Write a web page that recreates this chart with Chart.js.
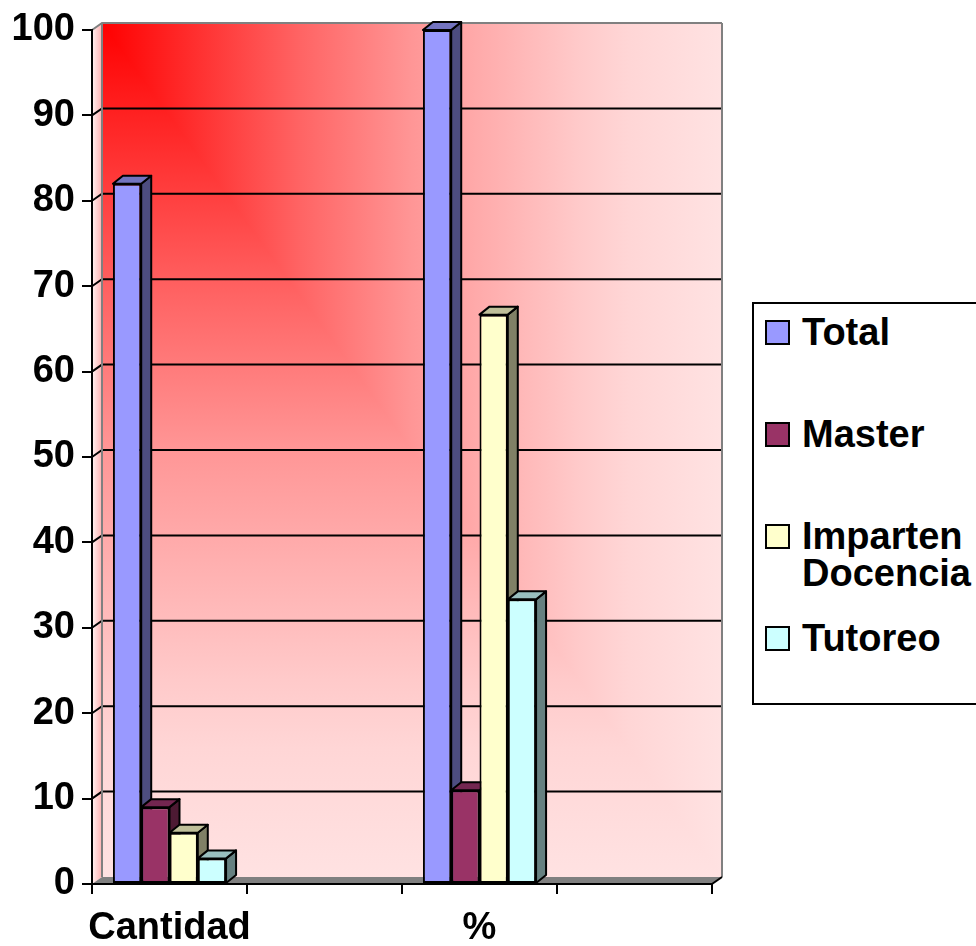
<!DOCTYPE html>
<html>
<head>
<meta charset="utf-8">
<title>Total / Master / Imparten Docencia / Tutoreo</title>
<script src="https://cdn.jsdelivr.net/npm/chart.js@4.4.1/dist/chart.umd.min.js"></script>
<style>
  html, body { margin: 0; padding: 0; background: #fff; overflow: hidden; }
  #wrap { position: relative; width: 976px; height: 946px; }
  #legend {
    position: absolute; left: 752px; top: 302px; width: 250px; height: 399px;
    border: 2px solid #000; background: #fff;
    font: bold 38px "Liberation Sans", Arial, sans-serif; color: #000;
  }
  .item { position: absolute; left: 11px; width: 230px; line-height: 37px; padding-left: 37px; box-sizing: border-box; }
  .item .sw { position: absolute; left: 0; top: 6px; width: 21px; height: 21px; border: 2px solid #000; }
</style>
</head>
<body>
<div id="wrap">
  <canvas id="chart" width="976" height="946"></canvas>
  <div id="legend"></div>
</div>
<script>
// ====================================
// DATA
// ====================================
const categories = ["Cantidad", "", "%", ""];
const seriesNames = ["Total", "Master", "Imparten Docencia", "Tutoreo"];
const totalValues = [82, null, 100, null];
const masterValues = [9, null, 10.98, null];
const docenciaValues = [6, null, 66.67, null];
const tutoreoValues = [3, null, 33.33, null];
const yTicks = [0, 10, 20, 30, 40, 50, 60, 70, 80, 90, 100];

// ====================================
// STYLE
// ====================================
const FONT = "'Liberation Sans', Arial, sans-serif";
const faceColors = ["#9999FF", "#993366", "#FFFFCC", "#CCFFFF"];
const sideColors = ["#4D4D80", "#4D1A33", "#808066", "#668080"];
const topColors = ["#7373BF", "#732650", "#BFBF99", "#99BFBF"];
const WALL_DX = 10, WALL_DY = -7;   // depth of back wall
const BAR_DX = 10, BAR_DY = -8;     // depth of each bar

function wallRamp(ctx, x0, y0, x1, y1) {
  const g = ctx.createLinearGradient(x0, y0, x1, y1);
  g.addColorStop(0, "#FF0000");
  g.addColorStop(0.32, "#FF6464");
  g.addColorStop(0.5, "#FF9696");
  g.addColorStop(0.77, "#FFCACA");
  g.addColorStop(0.85, "#FFD6D6");
  g.addColorStop(1, "#FFE2E2");
  return g;
}

// walls, floor and gridlines of the 3D box
const wallsPlugin = {
  id: "walls",
  beforeDraw(chart) {
    const ctx = chart.ctx;
    const a = chart.chartArea;
    const yScale = chart.scales.y;
    const L = a.left + WALL_DX, R = a.right + WALL_DX;
    const T = a.top + WALL_DY, B = a.bottom + WALL_DY;

    ctx.save();
    // back wall: "from corner" gradient, two triangles
    ctx.fillStyle = wallRamp(ctx, L, 0, R, 0);
    ctx.fillRect(L, T, R - L, B - T);
    ctx.beginPath();
    ctx.moveTo(L, T); ctx.lineTo(L, B); ctx.lineTo(R, B); ctx.closePath();
    ctx.fillStyle = wallRamp(ctx, 0, T, 0, B);
    ctx.fill();

    // left side wall
    ctx.beginPath();
    ctx.moveTo(a.left, a.top); ctx.lineTo(L, T); ctx.lineTo(L, B); ctx.lineTo(a.left, a.bottom);
    ctx.closePath();
    const lg = ctx.createLinearGradient(a.left, 0, L, 0);
    lg.addColorStop(0, "#FFF2F2");
    lg.addColorStop(1, "#FFB0B0");
    ctx.fillStyle = lg;
    ctx.fill();

    // gridlines
    ctx.lineWidth = 2;
    yTicks.forEach(function (v) {
      if (v === 0) return;
      const y = yScale.getPixelForValue(v);
      ctx.strokeStyle = v === yTicks[yTicks.length - 1] ? "#808080" : "#000";
      ctx.beginPath();
      ctx.moveTo(a.left, y);
      ctx.lineTo(L, y + WALL_DY);
      ctx.lineTo(R, y + WALL_DY);
      ctx.stroke();
    });

    // wall edges
    ctx.strokeStyle = "#808080";
    ctx.beginPath();
    ctx.moveTo(L, T); ctx.lineTo(L, B);
    ctx.moveTo(R, T); ctx.lineTo(R, B);
    ctx.stroke();

    // floor
    ctx.beginPath();
    ctx.moveTo(a.left, a.bottom); ctx.lineTo(L, B); ctx.lineTo(R, B); ctx.lineTo(a.right, a.bottom);
    ctx.closePath();
    ctx.fillStyle = "#808080";
    ctx.fill();
    ctx.strokeStyle = "#000";
    ctx.beginPath();
    ctx.moveTo(a.right, a.bottom); ctx.lineTo(R, B);
    ctx.stroke();
    ctx.restore();
  },

  // side and top faces of the bars
  beforeDatasetsDraw(chart) {
    const ctx = chart.ctx;
    ctx.save();
    ctx.lineWidth = 2;
    ctx.strokeStyle = "#000";
    ctx.lineJoin = "round";
    chart.data.datasets.forEach(function (ds, i) {
      const meta = chart.getDatasetMeta(i);
      meta.data.forEach(function (bar, j) {
        if (ds.data[j] == null) return;
        const p = bar.getProps(["x", "y", "base", "width"], true);
        const left = p.x - p.width / 2, right = p.x + p.width / 2;
        // side
        ctx.beginPath();
        ctx.moveTo(right, p.y);
        ctx.lineTo(right + BAR_DX, p.y + BAR_DY);
        ctx.lineTo(right + BAR_DX, p.base + BAR_DY);
        ctx.lineTo(right, p.base);
        ctx.closePath();
        ctx.fillStyle = sideColors[i];
        ctx.fill();
        ctx.stroke();
        // top
        ctx.beginPath();
        ctx.moveTo(left, p.y);
        ctx.lineTo(left + BAR_DX, p.y + BAR_DY);
        ctx.lineTo(right + BAR_DX, p.y + BAR_DY);
        ctx.lineTo(right, p.y);
        ctx.closePath();
        ctx.fillStyle = topColors[i];
        ctx.fill();
        ctx.stroke();
      });
    });
    ctx.restore();
  }
};

// ====================================
// CHART
// ====================================
const seriesValues = [totalValues, masterValues, docenciaValues, tutoreoValues];

new Chart(document.getElementById("chart").getContext("2d"), {
  type: "bar",
  data: {
    labels: categories,
    datasets: seriesNames.map(function (name, i) {
      return {
        label: name,
        data: seriesValues[i],
        backgroundColor: faceColors[i],
        borderColor: "#000",
        borderWidth: 2,
        borderSkipped: false,
        categoryPercentage: 0.73,
        barPercentage: 1.0
      };
    })
  },
  options: {
    responsive: false,
    animation: false,
    layout: { padding: { left: 0, top: 30, right: 264, bottom: 0 } },
    plugins: { legend: { display: false }, tooltip: { enabled: false } },
    scales: {
      x: {
        afterFit: function (s) { s.height = 62; },
        grid: { drawOnChartArea: false, color: "#000", lineWidth: 2, tickLength: 10, offset: true },
        border: { color: "#000", width: 2 },
        ticks: { color: "#000", font: { family: FONT, size: 38, weight: "bold" }, padding: 12, autoSkip: false, maxRotation: 0 }
      },
      y: {
        min: 0,
        max: 100,
        afterFit: function (s) { s.width = 92; },
        afterBuildTicks: function (s) { s.ticks = yTicks.map(function (v) { return { value: v }; }); },
        grid: { drawOnChartArea: false, color: "#000", lineWidth: 2, tickLength: 10 },
        border: { color: "#000", width: 2 },
        ticks: { color: "#000", font: { family: FONT, size: 38, weight: "bold" }, padding: 7 }
      }
    }
  },
  plugins: [wallsPlugin]
});

// ====================================
// LEGEND
// ====================================
const legend = document.getElementById("legend");
seriesNames.forEach(function (name, i) {
  const item = document.createElement("div");
  item.className = "item";
  item.style.top = (10 + i * 102) + "px";
  item.innerHTML = '<span class="sw" style="background:' + faceColors[i] + '"></span>' + name;
  legend.appendChild(item);
});
</script>
</body>
</html>
